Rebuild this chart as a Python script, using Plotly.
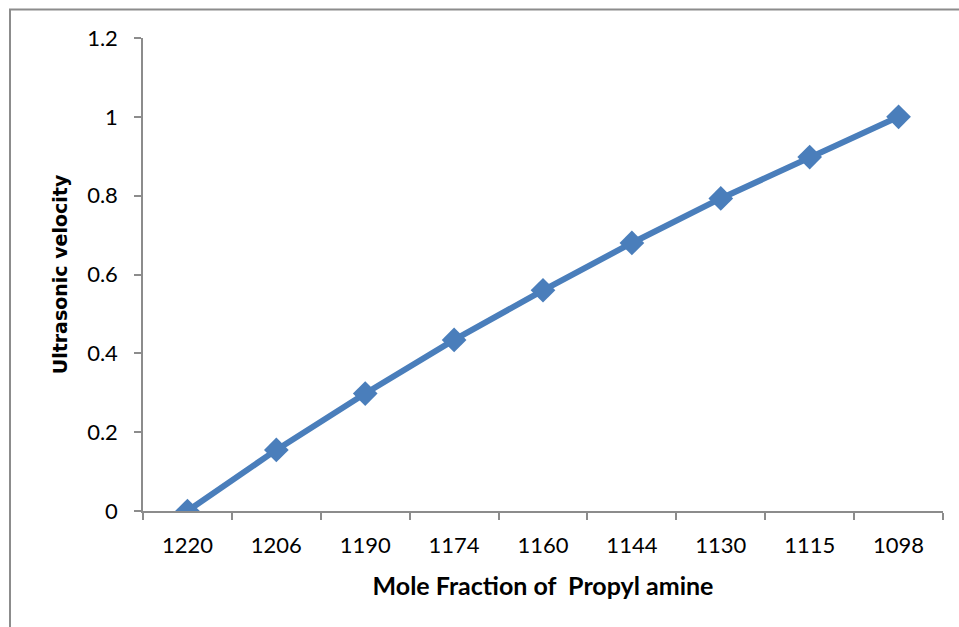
import plotly.graph_objects as go

categories = ["1220", "1206", "1190", "1174", "1160", "1144", "1130", "1115", "1098"]
velocity = [0.0, 0.155, 0.298, 0.434, 0.560, 0.680, 0.793, 0.898, 1.0]
y_ticks = [0, 0.2, 0.4, 0.6, 0.8, 1.0, 1.2]
y_tick_text = ["0", "0.2", "0.4", "0.6", "0.8", "1", "1.2"]

W, H = 959, 627
ML, MR, MT, MB = 143, 16, 38, 116
pw, ph = W - ML - MR, H - MT - MB

fig = go.Figure()
fig.add_trace(go.Scatter(
    x=categories, y=velocity, mode="lines+markers",
    line=dict(color="#4A7EBB", width=6),
    marker=dict(symbol="diamond", size=19, color="#4A7EBB"),
    showlegend=False,
))

axis_col = "#8C8C8C"
fig.update_layout(
    width=W, height=H,
    margin=dict(l=ML, r=MR, t=MT, b=MB, pad=0),
    paper_bgcolor="white", plot_bgcolor="white",
    font=dict(family="Lato, Open Sans, sans-serif", color="black"),
    xaxis=dict(
        type="category", categoryorder="array", categoryarray=categories,
        range=[-0.5, len(categories) - 0.5],
        showgrid=False, zeroline=False,
        showline=True, linecolor=axis_col, linewidth=1.5,
        ticks="outside", tickson="boundaries", ticklen=7, tickcolor=axis_col, tickwidth=1.5,
        tickfont=dict(size=22, family="Lato, sans-serif"),
        ticklabelstandoff=14,
        title=dict(text="<b>Mole Fraction of  Propyl amine</b>",
                   font=dict(size=25, family="Lato, sans-serif"), standoff=20),
    ),
    yaxis=dict(
        range=[0, 1.2], tickvals=y_ticks, ticktext=y_tick_text,
        showgrid=False, zeroline=False,
        showline=True, linecolor=axis_col, linewidth=1.5,
        ticks="outside", ticklen=7, tickcolor=axis_col, tickwidth=1.5,
        tickfont=dict(size=22, family="Lato, sans-serif"),
        ticklabelstandoff=12,
        title=dict(text="<b>Ultrasonic velocity</b>",
                   font=dict(size=19, family="DejaVu Sans, sans-serif"), standoff=14),
    ),
)

# outer chart frame (left and top edges visible)
x0 = (10 - ML) / pw
x1 = (W + 5 - ML) / pw
y1 = 1 + (MT - 9.5) / ph
y0 = -(MB + 5) / ph
fig.add_shape(type="rect", xref="paper", yref="paper", x0=x0, x1=x1, y0=y0, y1=y1,
              line=dict(color="#8C8C8C", width=2), layer="below")

fig.write_html("out.html")
